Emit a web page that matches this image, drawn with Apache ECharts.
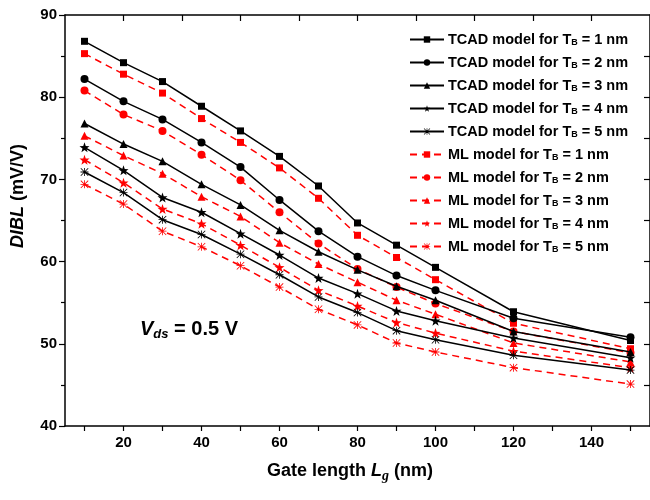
<!DOCTYPE html>
<html><head><meta charset="utf-8">
<script src="https://cdn.jsdelivr.net/npm/echarts@6/dist/echarts.min.js"></script>
<style>html,body{margin:0;padding:0;background:#fff}#c{width:650px;height:500px}</style>
</head><body><div id="c"></div>
<script>
const gateLength = [10, 20, 30, 40, 50, 60, 70, 80, 90, 100, 120, 150];
const tcad1 = [86.8, 84.2, 81.9, 78.9, 75.9, 72.8, 69.2, 64.7, 62.0, 59.3, 53.9, 50.4];
const tcad2 = [82.2, 79.5, 77.3, 74.5, 71.5, 67.5, 63.7, 60.6, 58.3, 56.5, 53.1, 50.8];
const tcad3 = [76.8, 74.3, 72.2, 69.4, 66.9, 63.8, 61.2, 59.0, 57.0, 55.3, 51.5, 49.0];
const tcad4 = [73.9, 71.1, 67.8, 66.0, 63.4, 60.8, 58.0, 56.1, 54.0, 52.8, 50.7, 48.3];
const tcad5 = [70.9, 68.4, 65.1, 63.3, 60.9, 58.4, 55.7, 53.8, 51.6, 50.5, 48.6, 46.8];
const ml1 = [85.3, 82.8, 80.5, 77.4, 74.5, 71.4, 67.7, 63.2, 60.5, 57.8, 52.5, 49.4];
const ml2 = [80.8, 77.9, 75.9, 73.0, 69.9, 66.0, 62.2, 59.1, 56.9, 54.9, 51.5, 48.9];
const ml3 = [75.3, 72.9, 70.7, 67.9, 65.5, 62.3, 59.7, 57.5, 55.3, 53.6, 50.1, 47.8];
const ml4 = [72.4, 69.6, 66.4, 64.6, 62.0, 59.3, 56.5, 54.6, 52.6, 51.3, 49.1, 47.1];
const ml5 = [69.4, 67.0, 63.7, 61.8, 59.5, 56.9, 54.2, 52.3, 50.1, 49.0, 47.1, 45.1];
const thickness = [1, 2, 3, 4, 5];
const xTickLabels = [20, 40, 60, 80, 100, 120, 140];
const yTickLabels = [40, 50, 60, 70, 80, 90];

const STAR = 'path://M10 0.5 L12.35 7.26 L19.51 7.41 L13.8 11.74 L15.88 18.59 L10 14.5 L4.12 18.59 L6.2 11.74 L0.49 7.41 L7.65 7.26 Z';
const AST = 'path://M0 9 L20 9 L20 11 L0 11 Z M9 0 L11 0 L11 20 L9 20 Z M1.4 0 L20 18.6 L18.6 20 L0 1.4 Z M18.6 0 L20 1.4 L1.4 20 L0 18.6 Z';
const symbols = ['rect', 'circle', 'triangle', STAR, AST];
const sizes = [7, 8, 8, 10, 8];

const FONT = 'Liberation Sans';
const tcadData = [tcad1, tcad2, tcad3, tcad4, tcad5];
const mlData = [ml1, ml2, ml3, ml4, ml5];

function pairs(arr) { return gateLength.map((x, i) => [x, arr[i]]); }

const series = [];
thickness.forEach((t, i) => {
  series.push({
    name: 'TCAD model for TB = ' + t + ' nm', type: 'line', data: pairs(tcadData[i]),
    symbol: symbols[i], symbolSize: sizes[i], z: 3,
    lineStyle: { color: '#000', width: 1.5, type: 'solid' },
    itemStyle: { color: '#000' }
  });
});
thickness.forEach((t, i) => {
  series.push({
    name: 'ML model for TB = ' + t + ' nm', type: 'line', data: pairs(mlData[i]),
    symbol: symbols[i], symbolSize: sizes[i], z: 2,
    lineStyle: { color: '#ff0000', width: 1.5, type: [7, 5] },
    itemStyle: { color: '#ff0000' }
  });
});

const range = (a, b, s) => { const r = []; for (let v = a; v <= b + 1e-9; v += s) r.push(v); return r; };

const chart = echarts.init(document.getElementById('c'), null, { renderer: 'canvas' });
chart.setOption({
  animation: false,
  backgroundColor: '#fff',
  grid: { left: 65, top: 15, right: 0, bottom: 74, containLabel: false },
  xAxis: [{
    type: 'value', position: 'bottom', min: 5, max: 155,
    axisLine: { show: true, onZero: false, lineStyle: { color: '#000', width: 1.5 } },
    axisTick: { show: true, inside: false, length: 5, customValues: range(10, 150, 10), lineStyle: { color: '#000', width: 1.2 } },
    axisLabel: { customValues: xTickLabels, color: '#000', fontFamily: FONT, fontWeight: 'bold', fontSize: 15, margin: 9 },
    splitLine: { show: false }
  }, {
    type: 'value', position: 'top', min: 5, max: 155,
    axisLine: { show: true, onZero: false, lineStyle: { color: '#000', width: 1.5 } },
    axisTick: { show: true, inside: true, length: 6, customValues: range(20, 140, 15), lineStyle: { color: '#000', width: 1.2 } },
    axisLabel: { show: false }, splitLine: { show: false }
  }],
  yAxis: [{
    type: 'value', position: 'left', min: 40, max: 90, interval: 10,
    axisLine: { show: true, onZero: false, lineStyle: { color: '#000', width: 1.5 } },
    axisTick: { show: true, inside: false, length: 6, lineStyle: { color: '#000', width: 1.2 } },
    minorTick: { show: true, splitNumber: 2, length: 4, lineStyle: { color: '#000', width: 1.2 } },
    axisLabel: { customValues: yTickLabels, color: '#000', fontFamily: FONT, fontWeight: 'bold', fontSize: 15, margin: 8 },
    splitLine: { show: false }, minorSplitLine: { show: false }
  }, {
    type: 'value', position: 'right', min: 40, max: 90,
    axisLine: { show: true, onZero: false, lineStyle: { color: '#000', width: 1.5 } },
    axisTick: { show: true, inside: true, length: 6, customValues: range(45, 85, 5), lineStyle: { color: '#000', width: 1.2 } },
    axisLabel: { show: false }, splitLine: { show: false }
  }],
  legend: {
    orient: 'vertical', left: 404, top: 27, itemWidth: 34, itemHeight: 8, itemGap: 7.5,
    formatter: n => n.replace('TB', 'T{sub|B}'),
    textStyle: {
      color: '#000', fontFamily: FONT, fontWeight: 'bold', fontSize: 14.5, padding: [0, 0, 0, -1],
      rich: { sub: { fontSize: 9, fontFamily: FONT, fontWeight: 'bold', color: '#000', verticalAlign: 'bottom', padding: [7, 0, 0, 0] } }
    },
    data: series.map(s => s.name)
  },
  graphic: [
    {
      type: 'text', x: 18, y: 196, rotation: Math.PI / 2, z: 10,
      style: {
        text: '{i|DIBL} (mV/V)', font: 'bold 18px "Liberation Sans"', fill: '#000',
        align: 'center', verticalAlign: 'middle',
        rich: { i: { fontStyle: 'italic', fontWeight: 'bold', fontSize: 18, fontFamily: FONT } }
      }
    },
    {
      type: 'text', x: 350, y: 471, z: 10,
      style: {
        text: 'Gate length {i|L}{g|g} (nm)', font: 'bold 18px "Liberation Sans"', fill: '#000',
        align: 'center', verticalAlign: 'middle',
        rich: {
          i: { fontStyle: 'italic', fontWeight: 'bold', fontSize: 18, fontFamily: FONT },
          g: { fontStyle: 'italic', fontWeight: 'bold', fontSize: 14, fontFamily: 'Liberation Serif', verticalAlign: 'bottom', padding: [10, 0, 0, 0] }
        }
      }
    },
    {
      type: 'text', x: 140, y: 329, z: 10,
      style: {
        text: '{v|V}{s|ds} = 0.5 V', font: 'bold 20px "Liberation Sans"', fill: '#000',
        align: 'left', verticalAlign: 'middle',
        rich: {
          v: { fontStyle: 'italic', fontWeight: 'bold', fontSize: 20, fontFamily: FONT },
          s: { fontStyle: 'italic', fontWeight: 'bold', fontSize: 13, fontFamily: FONT, verticalAlign: 'bottom', padding: [10, 0, 0, 0] }
        }
      }
    }
  ],
  series: series
});
</script></body></html>
